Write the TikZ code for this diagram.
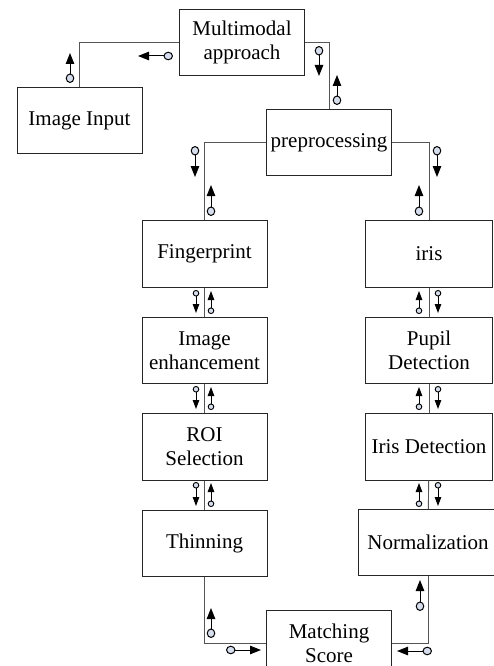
\documentclass[tikz,border=0pt]{standalone}
\usepackage{fontspec}
\setmainfont{Liberation Serif}
\usetikzlibrary{positioning, arrows.meta}

\definecolor{couplefill}{RGB}{214,222,238}
\definecolor{linegray}{RGB}{85,85,85}

\tikzstyle{process} = [rectangle, minimum width = 125pt, minimum height = 66.5pt, text centered, align = center, draw = black!85, line width = 0.9pt, inner sep = 1pt, font = \fontsize{21}{24}\selectfont]
\tikzstyle{flow} = [draw = linegray, line width = 0.9pt]
\tikzstyle{couple} = [line width = 1pt, {Circle[fill = couplefill, length = 9.5pt, width = 8.5pt]}-{Triangle[length = 11pt, width = 8.5pt]}]
\tikzstyle{smallcouple} = [line width = 0.9pt, {Circle[fill = couplefill, length = 6.5pt, width = 6.5pt]}-{Triangle[length = 9pt, width = 6.5pt]}]

\begin{document}
\begin{tikzpicture}[x = 1pt, y = -1pt]

    \clip (0,0) rectangle (494,666);

    \node(multi)[process] at (242,42.5) {Multimodal\\approach};
    \node(input)[process] at (79.5,120.5) {Image Input};
    \node(prep)[process] at (329,142.5) {preprocessing};

    \node(finger)[process] at (204.5,254) {Fingerprint};
    \node(enh)[process, below=29pt of finger] {Image\\enhancement};
    \node(roi)[process, below=29pt of enh] {ROI\\Selection};
    \node(thin)[process, below=29pt of roi] {Thinning};

    \node(iris)[process, minimum width = 127pt] at (429,254) {iris};
    \node(pupil)[process, minimum width = 127pt, below=29pt of iris] {Pupil\\Detection};
    \node(irisdet)[process, minimum width = 127pt, below=29pt of pupil] {Iris Detection};
    \node(norm)[process, minimum width = 140pt] at (428,542.5) {Normalization};

    \node(match)[process] at (329,643.5) {Matching\\Score};

    \draw[flow](input.north) |- (multi.west);
    \draw[flow](multi.east) -| (prep.north);
    \draw[flow](prep.west) -| (finger.north);
    \draw[flow](prep.east) -| (iris.north);
    \draw[flow](finger) -- (enh);
    \draw[flow](enh) -- (roi);
    \draw[flow](roi) -- (thin);
    \draw[flow](iris) -- (pupil);
    \draw[flow](pupil) -- (irisdet);
    \draw[flow](irisdet) -- (norm);
    \draw[flow](thin.south) |- (match.west);
    \draw[flow](norm.south) |- (match.east);

    % couples on the outer lines
    \draw[couple] (70,83) -- (70,53);
    \draw[couple] (173,56) -- (138,56);
    \draw[couple] (319,46) -- (319,76);
    \draw[couple] (337,105) -- (337,75);
    \draw[couple] (195,146) -- (195,177);
    \draw[couple] (437,146) -- (437,177);
    \draw[couple] (211,216) -- (211,185);
    \draw[couple] (419,216) -- (419,185);
    \draw[couple] (211,638) -- (211,608);
    \draw[couple] (226,650) -- (261,650);
    \draw[couple] (420,611) -- (420,580);
    \draw[couple] (432,651) -- (397,651);

    % couples between the steps
    \draw[smallcouple] (196,290) -- (196,313);
    \draw[smallcouple] (211,314) -- (211,291);
    \draw[smallcouple] (196,386) -- (196,409);
    \draw[smallcouple] (211,410) -- (211,387);
    \draw[smallcouple] (196,482) -- (196,506);
    \draw[smallcouple] (211,507) -- (211,483);
    \draw[smallcouple] (438,290) -- (438,313);
    \draw[smallcouple] (419,314) -- (419,291);
    \draw[smallcouple] (438,386) -- (438,409);
    \draw[smallcouple] (419,410) -- (419,387);
    \draw[smallcouple] (438,482) -- (438,506);
    \draw[smallcouple] (419,507) -- (419,483);

\end{tikzpicture}
\end{document}
